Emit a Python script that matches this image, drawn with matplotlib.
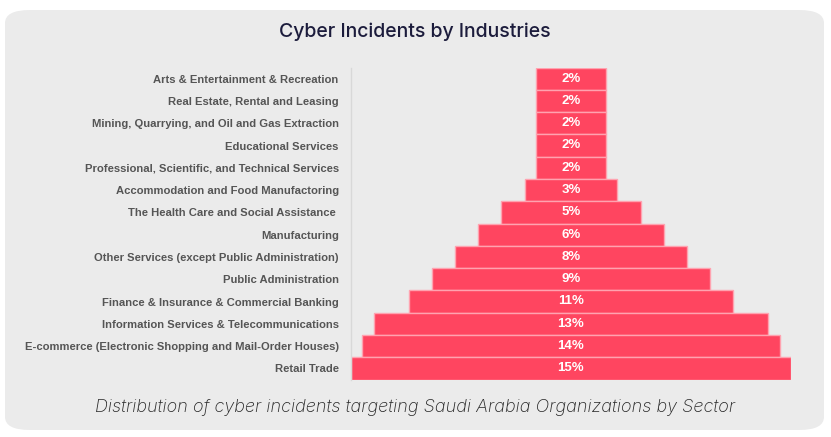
import matplotlib
matplotlib.use('Agg')
import matplotlib.pyplot as plt
from matplotlib.patches import FancyBboxPatch

# industries, top to bottom
industries = [
    'Arts & Entertainment & Recreation',
    'Real Estate, Rental and Leasing',
    'Mining, Quarrying, and Oil and Gas Extraction',
    'Educational Services',
    'Professional, Scientific, and Technical Services',
    'Accommodation and Food Manufactoring',
    'The Health Care and Social Assistance ',
    'Manufacturing',
    'Other Services (except Public Administration)',
    'Public Administration',
    'Finance & Insurance & Commercial Banking',
    'Information Services & Telecommunications',
    'E-commerce (Electronic Shopping and Mail-Order Houses)',
    'Retail Trade',
]
# incident counts (bar widths) and shown percentages
incidents = [3, 3, 3, 3, 3, 4, 6, 8, 10, 12, 14, 17, 18, 19]
percents = [2, 2, 2, 2, 2, 3, 5, 6, 8, 9, 11, 13, 14, 15]

W, H = 831, 437
fig = plt.figure(figsize=(W / 100, H / 100), dpi=100)
fig.patch.set_facecolor('white')

# rounded grey card behind everything
card = FancyBboxPatch((5 / W, 7 / H), 819 / W, 420 / H,
                      boxstyle='round,pad=0,rounding_size=0.03',
                      transform=fig.transFigure, facecolor='#ebebeb',
                      edgecolor='none', zorder=-5)
fig.patches.append(card)

ax = fig.add_axes([350.5 / W, (H - 379.5) / H, 440.8 / W, 312 / H])
ax.set_facecolor('none')
ax.set_zorder(2)

y = list(range(len(industries)))
left = [-v / 2 for v in incidents]
ax.barh(y, incidents, left=left, height=1.0, color='#ff4560',
        edgecolor='#ffa3b0', linewidth=1.0)

for yi, p in zip(y, percents):
    ax.text(0, yi, f'{p}%', ha='center', va='center', color='white',
            fontsize=9.5, fontweight='bold', family='Liberation Sans')

ax.set_xlim(-max(incidents) / 2, max(incidents) / 2)
ax.set_ylim(len(industries) - 0.5, -0.5)
ax.set_yticks(y)
ax.set_yticklabels(industries, fontsize=8.1, fontweight='bold',
                   family='Liberation Sans', color='#555555')
ax.tick_params(axis='y', length=0, pad=8.5)
ax.set_xticks([])
for s in ['top', 'right', 'bottom']:
    ax.spines[s].set_visible(False)
ax.spines['left'].set_color('#d8d8d8')
ax.spines['left'].set_linewidth(1)

fig.text(415 / W, 1 - 32 / H, 'Cyber Incidents by Industries', ha='center',
         va='center', fontsize=14, family='Inter', fontweight='medium',
         color='#1c1c3c')
fig.text(415 / W, 1 - 408 / H,
         'Distribution of cyber incidents targeting Saudi Arabia Organizations by Sector',
         ha='center', va='center', fontsize=13.0, family='Inter', style='italic',
         fontweight='light', color='#262626')

fig.savefig('out.png', dpi=100, facecolor='white')
